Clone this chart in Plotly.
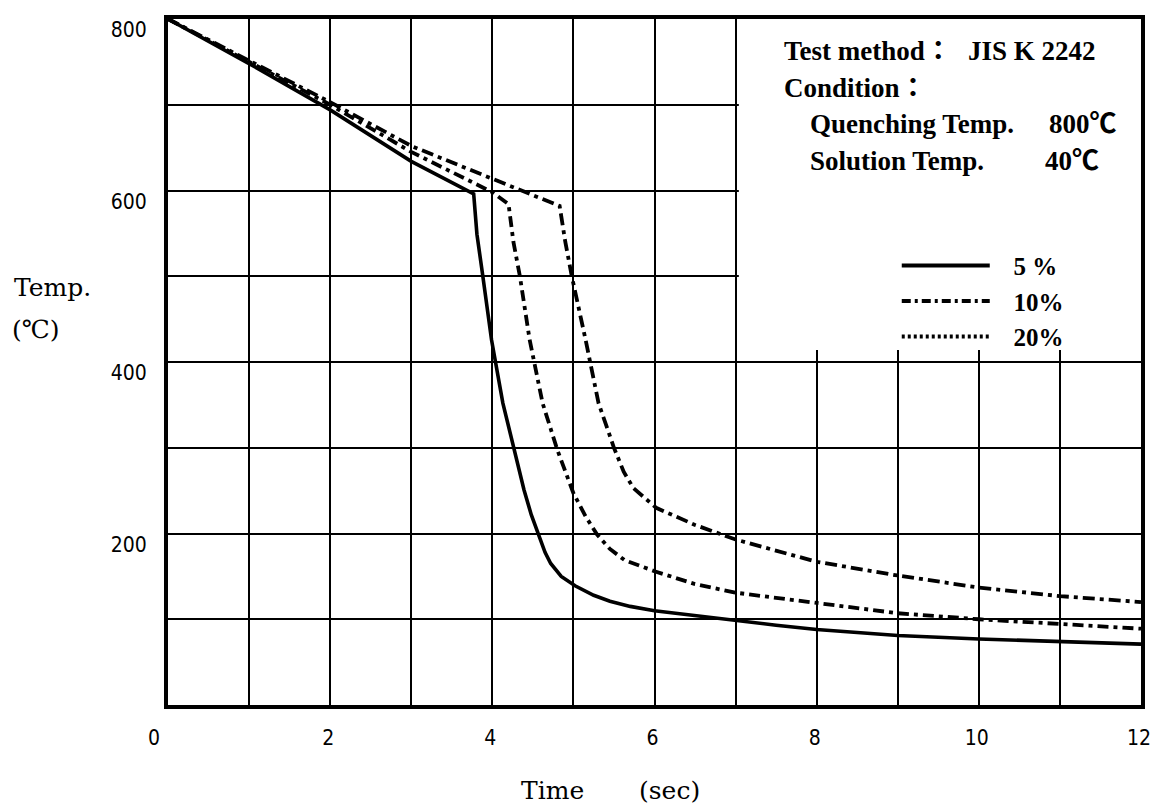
import plotly.graph_objects as go

# ---------------- data ----------------
time_5 = [0, 1, 2, 3, 3.77, 3.81, 3.88, 3.99, 4.13, 4.27, 4.39, 4.48, 4.57, 4.65,
          4.72, 4.85, 5.02, 5.25, 5.45, 5.7, 6.0, 6.5, 7.0, 7.5, 8.0, 9.0, 10.0, 11.0, 12.0]
temp_5 = [800, 748, 694, 634, 596, 549, 502, 426, 352, 298, 251, 222, 197, 178,
          165, 150, 139, 128, 121, 115, 110, 104, 99, 93, 88, 81, 77, 74, 71]

time_10 = [0, 1, 2, 3, 4, 4.2, 4.26, 4.34, 4.46, 4.62, 4.8, 5.0, 5.15, 5.29, 5.45,
           5.63, 6.0, 6.5, 7.0, 8.0, 9.0, 10.0, 11.0, 12.0]
temp_10 = [800, 750, 700, 645, 598, 584, 540, 500, 426, 352, 298, 247, 220, 199, 182,
           169, 156, 141, 131, 119, 107, 100, 94, 89]

time_20 = [0, 1, 2, 3, 4, 4.83, 4.9, 4.98, 5.15, 5.31, 5.5, 5.62, 5.74, 5.86, 6.02,
           6.5, 7.0, 8.0, 9.0, 10.0, 11.0, 12.0]
temp_20 = [800, 752, 703, 652, 614, 582, 540, 500, 426, 352, 300, 272, 253, 243, 230,
           210, 193, 167, 151, 137, 127, 120]

series_labels = ["5 %", "10%", "20%"]
x_tickvals = [0, 2, 4, 6, 8, 10, 12]
y_tickvals = [200, 400, 600, 800]

# ---------------- layout helpers ----------------
# the page body has an 8px margin, so the figure is drawn 8px in from the window corner
OFF = 8
WIN_W, WIN_H = 1158, 811
W, H = WIN_W - OFF, WIN_H - OFF
PLOT_L, PLOT_R, PLOT_T, PLOT_B = 168, 1148, 15, 705      # page pixels of the plot frame
ML, MR, MT, MB = PLOT_L - OFF, W - (PLOT_R - OFF), PLOT_T - OFF, H - (PLOT_B - OFF)
PW, PH = PLOT_R - PLOT_L, PLOT_B - PLOT_T


def px_x(px):
    return (px - PLOT_L) / PW


def px_y(py):
    return (PLOT_B - py) / PH


fig = go.Figure()

curve_styles = [
    dict(color="black", width=3.6),
    dict(color="black", width=3.8, dash="11px,5px,4px,5px"),
    dict(color="black", width=3.8, dash="12px,5px,4px,5px"),
]
for xs, ys, st in zip([time_5, time_10, time_20], [temp_5, temp_10, temp_20], curve_styles):
    fig.add_trace(go.Scatter(x=xs, y=ys, mode="lines", line=st, showlegend=False,
                             hoverinfo="skip"))

legend_styles = [
    dict(color="black", width=4),
    dict(color="black", width=4, dash="9px,4px,3px,4px"),
    dict(color="black", width=4, dash="3px,3px"),
]
gap = "\u00a0\u00a0\u00a0"
for name, st in zip(series_labels, legend_styles):
    fig.add_trace(go.Scatter(x=[None], y=[None], mode="lines", name=gap + "<b>" + name + "</b>",
                             line=st, showlegend=True))

tick_font = dict(family="Liberation Sans Narrow, Arial Narrow, DejaVu Sans Condensed, sans-serif",
                 size=21, color="black")
x_ticktext = [str(v) for v in x_tickvals]
x_ticktext[0] = x_ticktext[0] + "\u00a0" * 4   # the reference sets "0" left of the corner

fig.update_xaxes(range=[0, 12], tickvals=x_tickvals, ticktext=x_ticktext,
                 showgrid=True, gridcolor="black", gridwidth=2,
                 minor=dict(dtick=1, tick0=0, showgrid=True, gridcolor="black", gridwidth=2),
                 showline=True, mirror=True, linecolor="black", linewidth=4,
                 ticks="", zeroline=False, tickfont=tick_font, ticklabelstandoff=11,
                 ticklabelshift=-2)
fig.update_yaxes(range=[0, 800], tickvals=y_tickvals, ticktext=[str(v) for v in y_tickvals],
                 showgrid=True, gridcolor="black", gridwidth=2,
                 minor=dict(dtick=100, tick0=0, showgrid=True, gridcolor="black", gridwidth=2),
                 showline=True, mirror=True, linecolor="black", linewidth=4,
                 ticks="", zeroline=False, tickfont=tick_font, ticklabelstandoff=13,
                 ticklabelshift=11)

# white panel behind the notes (hides the grid in the upper right)
fig.add_shape(type="rect", xref="x", yref="y", x0=7.04, x1=12, y0=414, y1=800,
              fillcolor="white", line=dict(width=0), layer="between")

serif = "Liberation Serif, Times New Roman, Noto Sans CJK JP, serif"
notes = [
    ("Test method：", 786, 47),
    ("JIS K 2242", 972, 47),
    ("Condition：", 786, 84),
    ("Quenching Temp.", 813, 121),
    ("800℃", 1053, 121),
    ("Solution Temp.", 813, 158),
    ("40℃", 1049, 158),
]
for txt, x, y in notes:
    fig.add_annotation(text="<b>" + txt + "</b>", x=px_x(x), y=px_y(y), xref="paper", yref="paper",
                       xanchor="left", yanchor="middle", showarrow=False,
                       font=dict(family=serif, size=27, color="black"))

title_font = "DejaVu Serif, Liberation Serif, serif"
axis_titles = [
    ("Temp.", 11, 285, "left"),
    ("(℃)", 9, 327, "left"),
    ("Time", 555, 791, "center"),
    ("(sec)", 673, 791, "center"),
]
for txt, x, y, anc in axis_titles:
    fig.add_annotation(text=txt, x=px_x(x), y=px_y(y), xref="paper", yref="paper",
                       xanchor=anc, yanchor="middle", showarrow=False,
                       font=dict(family=title_font, size=25, color="black"))

fig.update_layout(
    width=W, height=H,
    margin=dict(l=ML, r=MR, t=MT, b=MB),
    paper_bgcolor="white", plot_bgcolor="white",
    showlegend=True,
    legend=dict(x=px_x(902), y=px_y(240), xanchor="left", yanchor="top",
                bgcolor="rgba(0,0,0,0)", borderwidth=0, itemwidth=88,
                font=dict(family=serif, size=25, color="black"), tracegroupgap=0),
)

fig.write_html("out.html")
